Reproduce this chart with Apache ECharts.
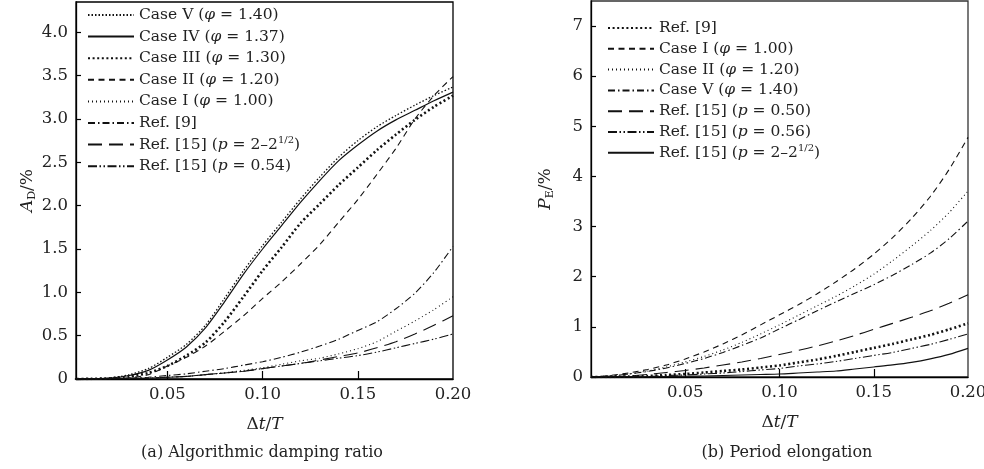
<!DOCTYPE html>
<html>
<head>
<meta charset="UTF-8">
<title>Algorithmic damping ratio and period elongation</title>
<script src="https://cdn.jsdelivr.net/npm/echarts@6/dist/echarts.min.js"></script>
</head>
<body style="margin:0;background:#fff">
<div id="chart" style="width:984px;height:469px;"></div>
<script>
// time step ratio Δt/T
var dt = [0, 0.01, 0.02, 0.03, 0.04, 0.05, 0.06, 0.07, 0.08, 0.09, 0.10,
          0.11, 0.12, 0.13, 0.14, 0.15, 0.16, 0.17, 0.18, 0.19, 0.20];

// (a) algorithmic damping ratio A_D (%)
var adCaseV   = [0, 0.003, 0.012, 0.05, 0.12, 0.25, 0.40, 0.62, 0.93, 1.25, 1.54, 1.81, 2.08, 2.33, 2.56, 2.75, 2.91, 3.04, 3.16, 3.27, 3.37];
var adCaseIV  = [0, 0.002, 0.01, 0.04, 0.10, 0.22, 0.37, 0.59, 0.89, 1.21, 1.50, 1.77, 2.04, 2.29, 2.52, 2.70, 2.86, 2.99, 3.10, 3.21, 3.31];
var adCaseIII = [0, 0.002, 0.008, 0.03, 0.07, 0.15, 0.27, 0.42, 0.66, 0.95, 1.25, 1.52, 1.80, 2.02, 2.24, 2.44, 2.64, 2.82, 2.99, 3.14, 3.27];
var adCaseII  = [0, 0.001, 0.005, 0.015, 0.05, 0.15, 0.25, 0.38, 0.55, 0.73, 0.93, 1.12, 1.33, 1.55, 1.81, 2.07, 2.36, 2.66, 3.00, 3.27, 3.49];
var adCaseI   = [0, 0.001, 0.003, 0.006, 0.01, 0.02, 0.03, 0.05, 0.07, 0.10, 0.13, 0.17, 0.21, 0.24, 0.29, 0.35, 0.43, 0.55, 0.67, 0.80, 0.95];
var adRef9    = [0, 0.001, 0.005, 0.01, 0.02, 0.04, 0.06, 0.09, 0.12, 0.16, 0.20, 0.25, 0.31, 0.38, 0.46, 0.56, 0.66, 0.81, 0.99, 1.23, 1.53];
var adRef15a  = [0, 0.001, 0.003, 0.006, 0.01, 0.02, 0.03, 0.05, 0.07, 0.09, 0.12, 0.15, 0.18, 0.22, 0.26, 0.30, 0.36, 0.43, 0.52, 0.62, 0.73];
var adRef15b  = [0, 0.001, 0.003, 0.006, 0.01, 0.02, 0.03, 0.05, 0.07, 0.09, 0.12, 0.15, 0.18, 0.21, 0.24, 0.27, 0.31, 0.36, 0.41, 0.46, 0.52];

// (b) period elongation P_E (%)
var peRef9    = [0, 0.002, 0.01, 0.02, 0.04, 0.06, 0.09, 0.12, 0.15, 0.19, 0.23, 0.29, 0.35, 0.42, 0.50, 0.58, 0.66, 0.75, 0.84, 0.95, 1.07];
var peCaseI   = [0, 0.03, 0.08, 0.15, 0.24, 0.36, 0.50, 0.66, 0.84, 1.04, 1.24, 1.44, 1.66, 1.90, 2.16, 2.45, 2.78, 3.16, 3.60, 4.14, 4.78];
var peCaseII  = [0, 0.02, 0.06, 0.12, 0.20, 0.30, 0.41, 0.54, 0.69, 0.86, 1.04, 1.23, 1.42, 1.61, 1.82, 2.05, 2.32, 2.61, 2.92, 3.28, 3.71];
var peCaseV   = [0, 0.02, 0.06, 0.11, 0.18, 0.27, 0.37, 0.49, 0.63, 0.78, 0.96, 1.14, 1.32, 1.50, 1.67, 1.84, 2.03, 2.24, 2.47, 2.76, 3.11];
var peRef15a  = [0, 0.005, 0.02, 0.05, 0.09, 0.13, 0.18, 0.24, 0.30, 0.37, 0.45, 0.53, 0.62, 0.72, 0.83, 0.95, 1.07, 1.19, 1.32, 1.47, 1.64];
var peRef15b  = [0, 0.001, 0.005, 0.01, 0.03, 0.04, 0.06, 0.08, 0.11, 0.14, 0.17, 0.22, 0.26, 0.31, 0.37, 0.43, 0.49, 0.57, 0.65, 0.75, 0.86];
var peRef15c  = [0, 0, 0.002, 0.005, 0.01, 0.015, 0.02, 0.03, 0.04, 0.05, 0.06, 0.08, 0.10, 0.12, 0.16, 0.20, 0.24, 0.29, 0.36, 0.45, 0.57];

var xTicks = [0.05, 0.10, 0.15, 0.20];
var adTicks = [0, 0.5, 1.0, 1.5, 2.0, 2.5, 3.0, 3.5, 4.0];
var peTicks = [0, 1, 2, 3, 4, 5, 6, 7];

var serif = 'DejaVu Serif';
var ink = '#111';

// line dash patterns
var dense = [1.5, 2], sparse = [1, 3], thick = [2, 2.6], dash = [6, 4.5],
    dashDot = [7, 3, 1.5, 3], longDash = [14, 7], dashDotDot = [9, 2.5, 1.5, 2.5, 1.5, 2.5];

function pts(ys) {
    return dt.map(function (x, i) { return [x, ys[i]]; });
}

function line(name, ys, idx, type, width) {
    return {
        name: name,
        type: 'line',
        xAxisIndex: idx,
        yAxisIndex: idx,
        data: pts(ys),
        symbol: 'none',
        showSymbol: false,
        smooth: 0.25,
        animation: false,
        itemStyle: {color: ink, opacity: 0},
        lineStyle: {color: ink, width: width || 1.2, type: type || 'solid', cap: 'butt'}
    };
}

// right-hand series get a trailing space so names do not clash with the left ones
var series = [
    line('Case V (φ = 1.40)', adCaseV, 0, dense, 1.3),
    line('Case IV (φ = 1.37)', adCaseIV, 0, 'solid', 1.2),
    line('Case III (φ = 1.30)', adCaseIII, 0, thick, 2.6),
    line('Case II (φ = 1.20)', adCaseII, 0, dash, 1.1),
    line('Case I (φ = 1.00)', adCaseI, 0, sparse, 1.1),
    line('Ref. [9]', adRef9, 0, dashDot, 1.1),
    line('Ref. [15] (p = 2–2^1/2)', adRef15a, 0, longDash, 1.1),
    line('Ref. [15] (p = 0.54)', adRef15b, 0, dashDotDot, 1.1),

    line('Ref. [9] ', peRef9, 1, thick, 2.6),
    line('Case I (φ = 1.00) ', peCaseI, 1, dash, 1.1),
    line('Case II (φ = 1.20) ', peCaseII, 1, sparse, 1.1),
    line('Case V (φ = 1.40) ', peCaseV, 1, dashDot, 1.1),
    line('Ref. [15] (p = 0.50) ', peRef15a, 1, longDash, 1.1),
    line('Ref. [15] (p = 0.56) ', peRef15b, 1, dashDotDot, 1.1),
    line('Ref. [15] (p = 2–2^1/2) ', peRef15c, 1, 'solid', 1.2)
];

function fmt(name) {
    return name.trim()
        .replace('φ', '{i|φ}')
        .replace('(p =', '({i|p} =')
        .replace('2^1/2', '2{sup|1/2}');
}

var richText = {
    i: {fontFamily: serif, fontSize: 15.5, fontStyle: 'italic', color: '#222', lineHeight: 18},
    sup: {fontFamily: serif, fontSize: 10, color: '#222', verticalAlign: 'top', lineHeight: 10}
};

function legend(names, left, top, gap) {
    return {
        orient: 'vertical',
        left: left,
        top: top,
        padding: 0,
        data: names,
        itemWidth: 46,
        itemHeight: 12,
        itemGap: gap,
        selectedMode: false,
        formatter: fmt,
        itemStyle: {opacity: 0},
        textStyle: {fontFamily: serif, fontSize: 15.5, color: '#222', lineHeight: 18, rich: richText}
    };
}

var axisName = {
    fontFamily: serif, fontSize: 17, color: '#222',
    rich: {
        r: {fontFamily: serif, fontSize: 17, color: '#222'},
        i: {fontFamily: serif, fontSize: 17, fontStyle: 'italic', color: '#222'},
        s: {fontFamily: serif, fontSize: 11, color: '#222', verticalAlign: 'bottom', padding: [10, 0, 0, 0]}
    }
};

function xAxis(idx, min) {
    return {
        type: 'value',
        gridIndex: idx,
        min: min,
        max: 0.2,
        name: '{r|Δ}{i|t}{r|/}{i|T}',
        nameLocation: 'middle',
        nameGap: 37,
        nameTextStyle: axisName,
        axisLine: {show: true, lineStyle: {color: '#000', width: 1.3}},
        axisTick: {show: true, inside: true, length: 8, customValues: xTicks.slice(0, 3), lineStyle: {color: '#000', width: 1.2}},
        axisLabel: {customValues: xTicks, margin: 7, fontFamily: serif, fontSize: 16.5, color: '#222',
            formatter: function (v) { return v.toFixed(2); }},
        splitLine: {show: false}
    };
}

function yAxis(idx, max, ticks, name, dec, gap) {
    return {
        type: 'value',
        gridIndex: idx,
        min: 0,
        max: max,
        name: name,
        nameLocation: 'middle',
        nameGap: gap,
        nameTextStyle: axisName,
        axisLine: {show: true, lineStyle: {color: '#000', width: 1.3}},
        axisTick: {show: true, inside: true, length: 5, customValues: ticks, lineStyle: {color: '#000', width: 1.2}},
        axisLabel: {customValues: ticks, margin: 8, fontFamily: serif, fontSize: 16.5, color: '#222',
            formatter: function (v) { return v === 0 ? '0' : v.toFixed(dec); }},
        splitLine: {show: false}
    };
}

var chart = echarts.init(document.getElementById('chart'), null, {renderer: 'canvas'});

chart.setOption({
    backgroundColor: '#fff',
    animation: false,
    grid: [
        {left: 76, top: 2, width: 377, height: 377, show: true, borderColor: '#000', borderWidth: 1.3, outerBoundsMode: 'none'},
        {left: 591, top: 1, width: 377, height: 376, show: true, borderColor: '#333', borderWidth: 1.3, outerBoundsMode: 'none'}
    ],
    legend: [
        legend(series.slice(0, 8).map(function (s) { return s.name; }), 87, 6, 3.6),
        legend(series.slice(8).map(function (s) { return s.name; }), 607, 19, 2.8)
    ],
    xAxis: [xAxis(0, 0.002), xAxis(1, 0)],
    yAxis: [
        yAxis(0, 4.35, adTicks, '{i|A}{s|D}{r|/%}', 1, 37),
        yAxis(1, 7.5, peTicks, '{i|P}{s|E}{r|/%}', 0, 35)
    ],
    graphic: [
        {type: 'text', style: {text: '(a) Algorithmic damping ratio', x: 262, y: 453,
            align: 'center', verticalAlign: 'middle', font: '16px "DejaVu Serif"', fill: '#222'}},
        {type: 'text', style: {text: '(b) Period elongation', x: 787, y: 453,
            align: 'center', verticalAlign: 'middle', font: '16px "DejaVu Serif"', fill: '#222'}}
    ],
    series: series
});
</script>
</body>
</html>
